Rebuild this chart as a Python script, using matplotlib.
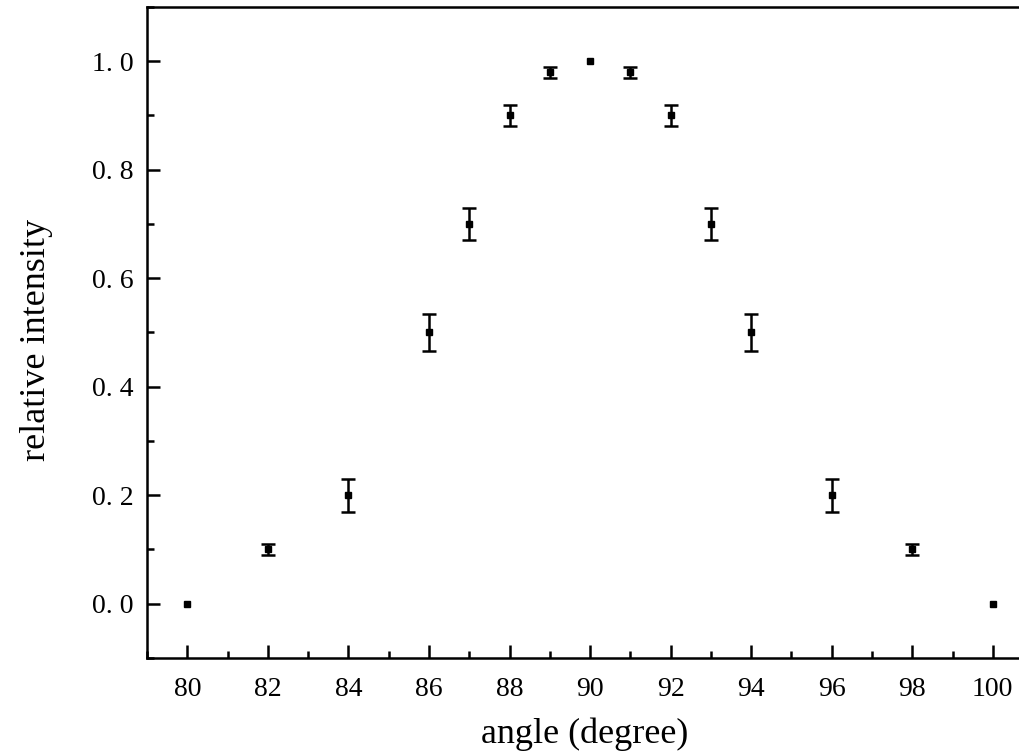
import numpy as np
import matplotlib
matplotlib.use('Agg')
import matplotlib.pyplot as plt
from matplotlib.ticker import MultipleLocator, FuncFormatter

angle = [80, 82, 84, 86, 87, 88, 89, 90, 91, 92, 93, 94, 96, 98, 100]
intensity = [0.0, 0.1, 0.2, 0.5, 0.7, 0.9, 0.98, 1.0, 0.98, 0.9, 0.7, 0.5, 0.2, 0.1, 0.0]
err = [0.0, 0.01, 0.03, 0.035, 0.03, 0.02, 0.01, 0.0, 0.01, 0.02, 0.03, 0.035, 0.03, 0.01, 0.0]

plt.rcParams['font.family'] = ['Liberation Serif', 'DejaVu Serif']

x = np.array(angle)
y = np.array(intensity)
e = np.array(err)
has_err = e > 0

fig = plt.figure(figsize=(10.19, 7.53), dpi=100)
ax = fig.add_axes([0.1443, 0.1262, 0.8695, 0.8645])

# points with an error bar
ax.errorbar(x[has_err], y[has_err], yerr=e[has_err], fmt='s', color='black',
            markersize=4.5, elinewidth=1.8, capsize=5, capthick=1.8)
# points without one
ax.plot(x[~has_err], y[~has_err], 's', color='black', markersize=4.5)

ax.set_xlim(79, 101)
ax.set_ylim(-0.1, 1.1)
ax.xaxis.set_major_locator(MultipleLocator(2))
ax.xaxis.set_minor_locator(MultipleLocator(1))
ax.yaxis.set_major_locator(MultipleLocator(0.2))
ax.yaxis.set_minor_locator(MultipleLocator(0.1))
ax.yaxis.set_major_formatter(FuncFormatter(lambda v, p: ('%.1f' % v).replace('.', '. ')))

for s in ax.spines.values():
    s.set_linewidth(1.8)
ax.tick_params(which='both', direction='in', width=1.8, top=False, right=False)
ax.tick_params(which='major', length=9.5, labelsize=20, pad=10)
ax.tick_params(axis='x', which='major', pad=14)
ax.tick_params(which='minor', length=5)

ax.set_xlabel('angle (degree)', fontsize=26)
ax.set_ylabel('relative intensity', fontsize=26)
ax.xaxis.set_label_coords(0.494, -0.092)
ax.yaxis.set_label_coords(-0.106, 0.488)

fig.savefig('out.png', dpi=100)
